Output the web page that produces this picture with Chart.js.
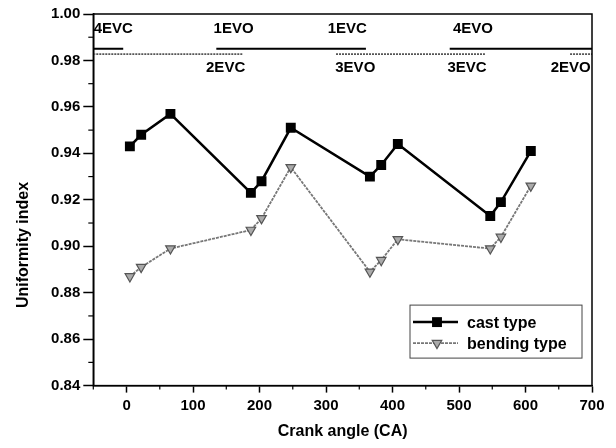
<!DOCTYPE html>
<html>
<head>
<meta charset="utf-8">
<script src="https://cdn.jsdelivr.net/npm/chart.js@4/dist/chart.umd.min.js"></script>
<style>
  html, body { margin: 0; padding: 0; background: #fff; }
</style>
</head>
<body>
<canvas id="uniformityChart" width="616" height="448"></canvas>
<script>
// crank angle positions of the samples (deg CA)
const crankAngle = [5, 22, 66, 187, 203, 247, 366, 383, 408, 547, 563, 608];
const castType = [0.943, 0.948, 0.957, 0.923, 0.928, 0.951, 0.930, 0.935, 0.944, 0.913, 0.919, 0.941];
const bendingType = [0.887, 0.891, 0.899, 0.907, 0.912, 0.934, 0.889, 0.894, 0.903, 0.899, 0.904, 0.926];

const xTicks = [0, 100, 200, 300, 400, 500, 600, 700];
const yTicks = [0.84, 0.86, 0.88, 0.90, 0.92, 0.94, 0.96, 0.98, 1.00];
const xMinorTicks = [-50, 50, 150, 250, 350, 450, 550, 650];
const yMinorTicks = [0.85, 0.87, 0.89, 0.91, 0.93, 0.95, 0.97, 0.99];

// valve event bars along the top of the plot
const openBarLevel = 0.985;
const openBars = [[-50, -5], [135, 360], [486, 700]];
const closeBarLevel = 0.9827;
const closeBars = [[-50, 175], [315, 539], [667, 700]];

const valveLabels = ['4EVC', '1EVO', '1EVC', '4EVO', '2EVC', '3EVO', '3EVC', '2EVO'];
const valveLabelX = [-20, 161, 332, 521, 149, 344, 512, 668];
const valveLabelY = [0.9937, 0.9937, 0.9937, 0.9937, 0.9768, 0.9768, 0.9768, 0.9768];

const FONT = '"Liberation Sans", Arial, sans-serif';
Chart.defaults.font.family = FONT;
Chart.defaults.color = '#000';

function barData(bars, level) {
  const pts = [];
  bars.forEach(([a, b]) => {
    pts.push({ x: a, y: level }, { x: b, y: level }, { x: b, y: null });
  });
  return pts;
}

const castStyle = { pointStyle: 'rect', radius: 7, rotation: 0, borderWidth: 0 };
const bendStyle = { pointStyle: 'triangle', radius: 5.5, rotation: 180, borderWidth: 1.2 };

const overlay = {
  id: 'overlay',
  afterDatasetsDraw(chart) {
    const { ctx, chartArea: a, scales: { x, y } } = chart;
    ctx.save();

    // frame
    ctx.strokeStyle = '#000';
    ctx.lineWidth = 1.5;
    ctx.strokeRect(a.left, a.top, a.right - a.left, a.bottom - a.top);

    // minor ticks
    ctx.lineWidth = 1.2;
    xMinorTicks.forEach(v => {
      const px = x.getPixelForValue(v);
      ctx.beginPath(); ctx.moveTo(px, a.bottom); ctx.lineTo(px, a.bottom + 4); ctx.stroke();
    });
    yMinorTicks.forEach(v => {
      const py = y.getPixelForValue(v);
      ctx.beginPath(); ctx.moveTo(a.left, py); ctx.lineTo(a.left - 5, py); ctx.stroke();
    });

    // valve event labels
    ctx.fillStyle = '#000';
    ctx.font = 'bold 15px ' + FONT;
    ctx.textAlign = 'center';
    ctx.textBaseline = 'middle';
    valveLabels.forEach((t, i) => {
      ctx.fillText(t, x.getPixelForValue(valveLabelX[i]), y.getPixelForValue(valveLabelY[i]));
    });

    // legend box
    const bx = a.right - 182, by = a.bottom - 80.5, bw = 172, bh = 53;
    ctx.strokeStyle = '#444';
    ctx.lineWidth = 1;
    ctx.strokeRect(bx, by, bw, bh);

    const rows = [
      { label: 'cast type', color: '#000', width: 2.5, dash: [], style: castStyle, fill: '#000', dy: 17 },
      { label: 'bending type', color: '#777', width: 1.8, dash: [3, 1], style: bendStyle, fill: '#aaa', dy: 38 }
    ];
    ctx.font = 'bold 16px ' + FONT;
    ctx.textAlign = 'left';
    rows.forEach(r => {
      const ly = by + r.dy;
      ctx.strokeStyle = r.color;
      ctx.lineWidth = r.width;
      ctx.setLineDash(r.dash);
      ctx.beginPath(); ctx.moveTo(bx + 3, ly); ctx.lineTo(bx + 48, ly); ctx.stroke();
      ctx.setLineDash([]);
      ctx.fillStyle = r.fill;
      ctx.strokeStyle = r.style.borderWidth ? '#555' : r.color;
      ctx.lineWidth = r.style.borderWidth || 1;
      Chart.helpers.drawPoint(ctx, r.style, bx + 27, ly);
      ctx.fillStyle = '#000';
      ctx.fillText(r.label, bx + 57, ly + 1);
    });

    // y axis title
    ctx.translate(24, 245);
    ctx.rotate(-Math.PI / 2);
    ctx.textAlign = 'center';
    ctx.font = 'bold 16px ' + FONT;
    ctx.fillText('Uniformity index', 0, 0);

    ctx.restore();
  }
};

new Chart(document.getElementById('uniformityChart'), {
  type: 'scatter',
  data: {
    datasets: [
      {
        label: 'open',
        data: barData(openBars, openBarLevel),
        showLine: true,
        borderColor: '#000',
        borderWidth: 2,
        pointRadius: 0
      },
      {
        label: 'close',
        data: barData(closeBars, closeBarLevel),
        showLine: true,
        borderColor: '#555',
        borderWidth: 1.8,
        borderDash: [2, 1],
        pointRadius: 0
      },
      {
        label: 'bending type',
        data: crankAngle.map((v, i) => ({ x: v, y: bendingType[i] })),
        showLine: true,
        borderColor: '#777',
        borderWidth: 1.8,
        borderDash: [3, 1],
        pointStyle: 'triangle',
        rotation: 180,
        pointRadius: 5.5,
        pointBackgroundColor: '#aaa',
        pointBorderColor: '#555',
        pointBorderWidth: 1.2
      },
      {
        label: 'cast type',
        data: crankAngle.map((v, i) => ({ x: v, y: castType[i] })),
        showLine: true,
        borderColor: '#000',
        borderWidth: 2.5,
        pointStyle: 'rect',
        pointRadius: 7,
        pointBackgroundColor: '#000',
        pointBorderWidth: 0
      }
    ]
  },
  options: {
    responsive: false,
    animation: false,
    events: [],
    layout: { padding: { top: 14, right: 24, left: 0, bottom: 0 } },
    plugins: {
      legend: { display: false },
      tooltip: { enabled: false }
    },
    scales: {
      x: {
        type: 'linear',
        min: -50,
        max: 700,
        afterBuildTicks: s => { s.ticks = xTicks.map(v => ({ value: v })); },
        afterFit: s => { s.height = 62.4; },
        ticks: {
          font: { size: 15, weight: 'bold' },
          padding: 4,
          maxRotation: 0
        },
        grid: {
          drawOnChartArea: false,
          drawTicks: true,
          tickLength: 7,
          tickWidth: 1.5,
          tickColor: '#000'
        },
        border: { display: true, color: '#000', width: 1.5 },
        title: {
          display: true,
          text: 'Crank angle (CA)',
          font: { size: 16, weight: 'bold' },
          padding: { top: 0, bottom: 7 }
        }
      },
      y: {
        min: 0.84,
        max: 1.00,
        afterBuildTicks: s => { s.ticks = yTicks.map(v => ({ value: v })); },
        afterFit: s => { s.width = 93.3; },
        ticks: {
          font: { size: 15, weight: 'bold' },
          padding: 3,
          callback: v => Number(v).toFixed(2)
        },
        grid: {
          drawOnChartArea: false,
          drawTicks: true,
          tickLength: 10,
          tickWidth: 1.5,
          tickColor: '#000'
        },
        border: { display: true, color: '#000', width: 1.5 }
      }
    }
  },
  plugins: [overlay]
});
</script>
</body>
</html>
